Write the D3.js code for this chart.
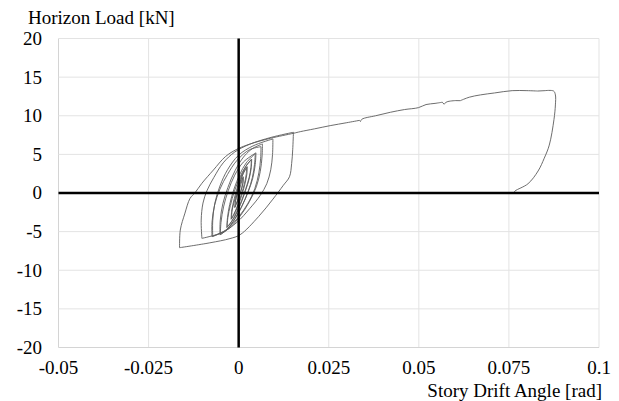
<!DOCTYPE html>
<html>
<head>
<meta charset="utf-8">
<script src="https://cdn.jsdelivr.net/npm/d3@7"></script>
<style>
  body { margin: 0; background: #fff; }
  svg text { font-family: "Liberation Serif", "Times New Roman", serif; fill: #000; }
</style>
</head>
<body>
<svg id="chart" font-family="Liberation Serif, serif"></svg>
<script>
let width = 619;
let height = 401;

// tick values
let xTicks = [-0.05, -0.025, 0, 0.025, 0.05, 0.075, 0.1];
let xTickLabels = ['-0.05', '-0.025', '0', '0.025', '0.05', '0.075', '0.1'];
let yTicks = [20, 15, 10, 5, 0, -5, -10, -15, -20];

// hysteresis, [drift angle rad, load kN]
let cycle1 = [[0,0],[0.0005,0.9],[0.0012,2.0],[0.0011,1.2],[0.0006,0.3],[0.0000,-0.6],[-0.0006,-1.3],[-0.0010,-1.8],
  [-0.0009,-1.0],[-0.0004,-0.1],[0.0002,0.9],[0.0008,1.6],[0.0013,2.1],[0.0012,1.3],[0.0006,0.2],[-0.0001,-0.8],[-0.0011,-1.9]];
let cycle2 = [[-0.0011,-1.9],[-0.0008,-0.9],[-0.0003,0.2],[0.0005,1.5],[0.0013,2.6],[0.0022,3.3],[0.0021,2.4],[0.0016,1.2],
  [0.0008,-0.1],[-0.0002,-1.5],[-0.0012,-2.6],[-0.0020,-3.3],[-0.0018,-2.2],[-0.0011,-0.9],[-0.0002,0.6],[0.0008,2.0],
  [0.0017,2.9],[0.0024,3.4],[0.0023,2.5],[0.0017,1.1],[0.0008,-0.4],[-0.0004,-1.9],[-0.0014,-2.9],[-0.0021,-3.4]];
let cycle3 = [[-0.0021,-3.4],[-0.0019,-2.2],[-0.0012,-0.7],[-0.0002,1.0],[0.0010,2.5],[0.0022,3.6],[0.0035,4.3],[0.0034,3.3],
  [0.0029,2.0],[0.0020,0.6],[0.0008,-1.0],[-0.0006,-2.5],[-0.0020,-3.7],[-0.0032,-4.4],[-0.0030,-3.2],[-0.0023,-1.6],
  [-0.0012,0.2],[0.0002,1.9],[0.0018,3.3],[0.0036,4.4],[0.0035,3.3],[0.0029,1.8],[0.0019,0.3],[0.0005,-1.5],
  [-0.0010,-3.0],[-0.0024,-4.0],[-0.0033,-4.5]];
let cycle4 = [[-0.0033,-4.5],[-0.0031,-3.2],[-0.0025,-1.5],[-0.0013,0.5],[0.0003,2.4],[0.0021,3.9],[0.0046,5.1],[0.0044,3.7],
  [0.0038,2.0],[0.0027,0.3],[0.0010,-1.6],[-0.0010,-3.3],[-0.0032,-4.7],[-0.0051,-5.4],[-0.0049,-3.8],[-0.0042,-1.8],
  [-0.0029,0.3],[-0.0011,2.3],[0.0013,4.0],[0.0048,5.2],[0.0046,3.7],[0.0039,1.9],[0.0026,0.1],[0.0007,-1.9],
  [-0.0015,-3.7],[-0.0036,-4.9],[-0.0052,-5.4]];
let cycle5 = [[-0.0052,-5.4],[-0.0051,-3.5],[-0.0044,-1.4],[-0.0030,0.7],[-0.0010,2.9],[0.0016,4.8],[0.0040,5.8],[0.0066,6.35],
  [0.0065,4.8],[0.0060,2.8],[0.0049,0.8],[0.0030,-1.1],[0.0004,-3.0],[-0.0030,-4.7],[-0.0074,-5.66],[-0.0074,-3.8],
  [-0.0067,-1.6],[-0.0052,0.5],[-0.0031,2.4],[-0.0005,4.2],[0.0030,5.6],[0.0062,6.0],[0.0061,4.5],[0.0056,2.6],
  [0.0045,0.6],[0.0025,-1.4],[-0.0002,-3.2],[-0.0036,-4.8],[-0.0072,-5.6]];
let cycle6 = [[-0.0072,-5.6],[-0.0072,-3.6],[-0.0066,-1.3],[-0.0052,0.9],[-0.0031,3.0],[0.0000,4.9],[0.0040,6.1],[0.0095,7.0],
  [0.0094,5.0],[0.0089,3.0],[0.0078,1.2],[0.0060,-0.3],[0.0031,-2.0],[-0.0005,-3.8],[-0.0045,-5.1],[-0.0102,-5.87]];
let cycle7 = [[-0.0102,-5.87],[-0.0104,-3.5],[-0.0099,-1.3],[-0.0088,0.3],[-0.0069,2.0],[-0.0043,3.9],[-0.0011,5.3],
  [0.0030,6.3],[0.0090,7.2],[0.0152,7.86],[0.0150,5.6],[0.0147,3.8],[0.0141,2.1],[0.0124,1.0],[0.0095,-0.8],
  [0.0055,-3.07],[0.0004,-5.4],[-0.0024,-5.9],[-0.0080,-6.45],[-0.0164,-7.08]];
let finalPush = [[-0.0164,-7.08],[-0.0162,-4.8],[-0.0149,-2.6],[-0.0135,-0.7],[-0.0121,0.04],[-0.0102,1.26],[-0.0070,2.98],
  [-0.0037,4.7],[-0.0005,5.66],[0.0032,6.35],[0.0088,7.08],[0.0152,7.73],[0.0171,7.94],[0.0210,8.3],[0.0254,8.72],
  [0.0300,9.1],[0.0335,9.4],[0.0338,9.25],[0.0342,9.55],[0.0380,10.0],[0.0421,10.45],[0.0460,10.8],[0.0499,11.05],
  [0.0520,11.45],[0.0545,11.6],[0.0565,11.75],[0.0570,11.5],[0.0578,11.8],[0.0601,11.96],[0.0615,11.95],[0.0640,12.4],
  [0.0671,12.7],[0.0710,12.95],[0.0759,13.25],[0.0800,13.25],[0.0830,13.2],[0.0850,13.25],[0.0874,13.2],[0.0879,12.7],
  [0.0879,11.4],[0.0875,9.5],[0.0862,6.2],[0.0848,4.5],[0.0831,2.85],[0.0803,1.2],[0.0767,0.26],[0.0763,0]];

let loops = [cycle1, cycle2, cycle3, cycle4, cycle5, cycle6, cycle7, finalPush];

// cut every loop at its load reversals so the peaks stay sharp
let branches = [];
loops.forEach(function(c) {
    let cur = [c[0]];
    for (let i = 1; i < c.length; i++) {
        cur.push(c[i]);
        if (i < c.length - 1) {
            let up = c[i][1] - c[i-1][1], next = c[i+1][1] - c[i][1];
            if (up * next < 0 && Math.abs(c[i][1]) > 1.5) {
                branches.push(cur);
                cur = [c[i]];
            }
        }
    }
    branches.push(cur);
});

const margin = {left: 58.5, right: 20, top: 38.5, bottom: 53.5};

const x = d3.scaleLinear()
    .domain([-0.05, 0.1])
    .range([margin.left, width - margin.right]);
const y = d3.scaleLinear()
    .domain([-20, 20])
    .range([height - margin.bottom, margin.top]);

const svg = d3.select("#chart")
    .attr("width", width)
    .attr("height", height);

// grid
svg.append("g")
    .selectAll("line")
    .data(xTicks)
    .join("line")
    .attr("x1", d => x(d)).attr("x2", d => x(d))
    .attr("y1", y(20)).attr("y2", y(-20))
    .attr("stroke", d => d === -0.05 ? "#d4d4d4" : "#e3e3e3")
    .attr("stroke-width", 1);
svg.append("g")
    .selectAll("line")
    .data(yTicks)
    .join("line")
    .attr("x1", x(-0.05)).attr("x2", x(0.1))
    .attr("y1", d => y(d)).attr("y2", d => y(d))
    .attr("stroke", d => d === -20 ? "#d4d4d4" : "#e3e3e3")
    .attr("stroke-width", 1);

// curves
const line = d3.line()
    .x(d => x(d[0]))
    .y(d => y(d[1]))
    .curve(d3.curveCatmullRom.alpha(0.5));

svg.append("g")
    .selectAll("path")
    .data(branches)
    .join("path")
    .attr("d", line)
    .attr("fill", "none")
    .attr("stroke", "#5c5c5c")
    .attr("stroke-width", 0.9)
    .attr("stroke-linejoin", "miter");

// zero axes
svg.append("line")
    .attr("x1", x(0)).attr("x2", x(0))
    .attr("y1", y(20)).attr("y2", y(-20))
    .attr("stroke", "#000").attr("stroke-width", 2.5);
svg.append("line")
    .attr("x1", x(-0.05)).attr("x2", x(0.1))
    .attr("y1", y(0)).attr("y2", y(0))
    .attr("stroke", "#000").attr("stroke-width", 2.5);

// tick labels
svg.append("g")
    .style("font-size", "19px")
    .attr("text-anchor", "end")
    .selectAll("text")
    .data(yTicks)
    .join("text")
    .attr("x", 42)
    .attr("y", d => y(d))
    .attr("dy", "0.34em")
    .text(d => d);
svg.append("g")
    .style("font-size", "19px")
    .attr("text-anchor", "middle")
    .selectAll("text")
    .data(xTicks)
    .join("text")
    .attr("x", d => x(d))
    .attr("y", 374)
    .text((d, i) => xTickLabels[i]);

// axis titles
svg.append("text")
    .attr("x", 28)
    .attr("y", 23.5)
    .style("font-size", "19px")
    .text("Horizon Load [kN]");
svg.append("text")
    .attr("x", 602)
    .attr("y", 396.5)
    .attr("text-anchor", "end")
    .style("font-size", "19px")
    .text("Story Drift Angle [rad]");
</script>
</body>
</html>
